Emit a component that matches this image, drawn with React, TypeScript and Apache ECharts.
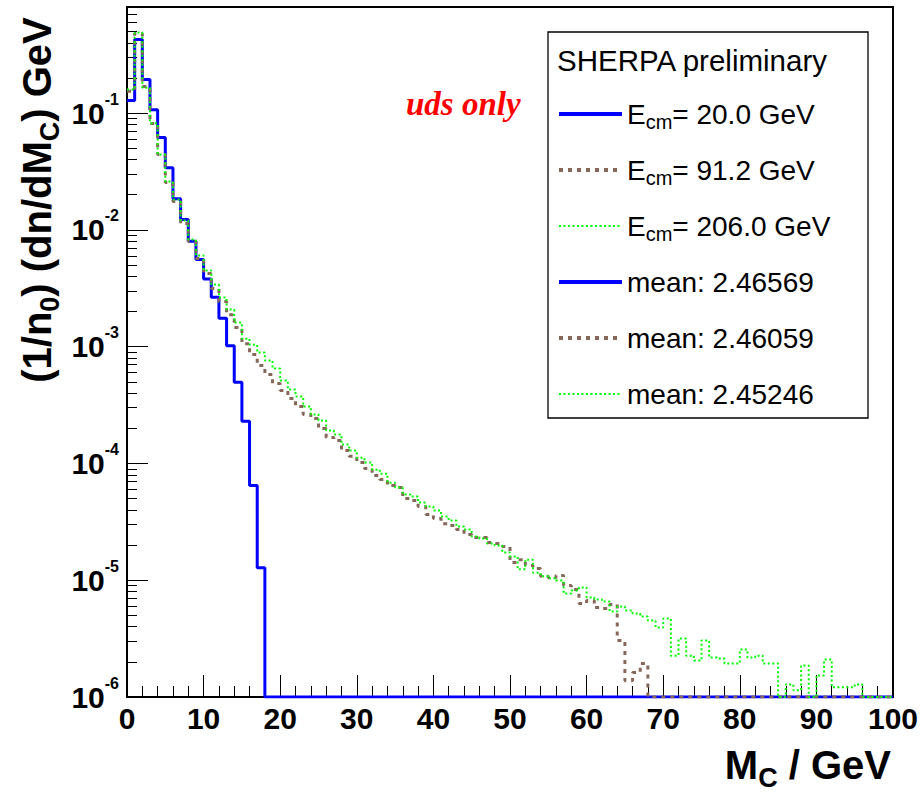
import React, { useEffect, useRef } from 'react';
import * as echarts from 'echarts';

// ---------- data (1 GeV bins) ----------
const binLowEdges: number[] = Array.from({ length: 100 }, (_, i) => i);
const X_MAX = 100;
const Y_MIN = 1e-6; // axis floor: empty bins are drawn on it, as ROOT does
const Y_MAX = 0.81;

const ecm20: number[] = [
  0.128, 0.426, 0.194, 0.107, 0.0617, 0.0341, 0.0185, 0.01225, 0.00798, 0.00557,
  0.0038, 0.00265, 0.00175, 0.00102, 0.000495, 0.00023, 6.47e-5, 1.28e-5, 0, 0,
  0, 0, 0, 0, 0, 0, 0, 0, 0, 0,
  0, 0, 0, 0, 0, 0, 0, 0, 0, 0,
  0, 0, 0, 0, 0, 0, 0, 0, 0, 0,
  0, 0, 0, 0, 0, 0, 0, 0, 0, 0,
  0, 0, 0, 0, 0, 0, 0, 0, 0, 0,
  0, 0, 0, 0, 0, 0, 0, 0, 0, 0,
  0, 0, 0, 0, 0, 0, 0, 0, 0, 0,
  0, 0, 0, 0, 0, 0, 0, 0, 0, 0,
];

const ecm91: number[] = [
  0.154, 0.48, 0.169, 0.0813, 0.0441, 0.0254, 0.01746, 0.01132, 0.00794, 0.00568,
  0.00424, 0.00314, 0.00243, 0.00188, 0.00146, 0.00106, 0.000855, 0.000689, 0.000577, 0.000483,
  0.000421, 0.00036, 0.000307, 0.000262, 0.000242, 0.000199, 0.000167, 0.000157, 0.000129, 0.000115,
  0.000102, 9.04e-5, 7.87e-5, 7.28e-5, 6.47e-5, 6.22e-5, 5.0e-5, 4.81e-5, 4.27e-5, 3.65e-5,
  3.37e-5, 3.05e-5, 2.94e-5, 2.72e-5, 2.46e-5, 2.32e-5, 2.32e-5, 2.1e-5, 2.06e-5, 1.94e-5,
  1.42e-5, 1.5e-5, 1.34e-5, 1.26e-5, 1.08e-5, 1.05e-5, 1.1e-5, 9.01e-6, 8.32e-6, 6.32e-6,
  6.7e-6, 5.83e-6, 5.73e-6, 6.19e-6, 3.05e-6, 1.38e-6, 1.62e-6, 1.94e-6, 0, 0,
  0, 0, 0, 0, 0, 0, 0, 0, 0, 0,
  0, 0, 0, 0, 0, 0, 0, 0, 0, 0,
  0, 0, 0, 0, 0, 0, 0, 0, 0, 0,
];

const ecm206: number[] = [
  0.159, 0.489, 0.165, 0.082, 0.0441, 0.0259, 0.01817, 0.01202, 0.00826, 0.00603,
  0.00449, 0.0034, 0.00263, 0.00208, 0.00161, 0.00117, 0.00104, 0.000891, 0.000761, 0.00065,
  0.000513, 0.00043, 0.000374, 0.000307, 0.000262, 0.000233, 0.000191, 0.000177, 0.000145, 0.000129,
  0.000112, 0.000102, 8.85e-5, 8.18e-5, 6.85e-5, 6.22e-5, 5.42e-5, 5.21e-5, 4.62e-5, 4.27e-5,
  3.95e-5, 3.51e-5, 3.24e-5, 2.88e-5, 2.72e-5, 2.37e-5, 2.28e-5, 2.06e-5, 1.98e-5, 1.73e-5,
  1.6e-5, 1.24e-5, 1.5e-5, 1.16e-5, 1.08e-5, 1.04e-5, 9.93e-6, 7.69e-6, 8.17e-6, 8.67e-6,
  7.11e-6, 6.84e-6, 6.58e-6, 5.4e-6, 5.96e-6, 5.51e-6, 5.19e-6, 4.89e-6, 4.52e-6, 3.94e-6,
  4.7e-6, 2.26e-6, 3.17e-6, 2.26e-6, 2.05e-6, 3.05e-6, 2.18e-6, 2.14e-6, 1.94e-6, 1.94e-6,
  2.55e-6, 2.18e-6, 2.26e-6, 1.94e-6, 1.94e-6, 0, 1.28e-6, 1.14e-6, 1.86e-6, 0,
  1.53e-6, 2.09e-6, 1.21e-6, 1.21e-6, 1.21e-6, 1.28e-6, 0, 0, 0, 0,
];

const seriesNames = ['Ecm= 20.0 GeV', 'Ecm= 91.2 GeV', 'Ecm= 206.0 GeV'];
const meanNames = ['mean: 2.46569', 'mean: 2.46059', 'mean: 2.45246'];
const xTickInterval = 10;
const yMajorTicks = [1e-6, 1e-5, 1e-4, 1e-3, 1e-2, 1e-1];
const yMinorMantissas = [2, 3, 4, 5, 6, 7, 8, 9];

// ---------- styles ----------
const SANS = "'Liberation Sans', Arial, Helvetica, sans-serif";
const SERIF = "'Liberation Serif', 'Times New Roman', serif";
const styles = [
  { color: '#0000ff', width: 3, type: 'solid' as any, legendWidth: 4 },
  { color: '#87675a', width: 3, type: [4, 5] as any, legendWidth: 4 },
  { color: '#00ff00', width: 2, type: [2, 2.5] as any, legendWidth: 2 },
];

function toSteps(vals: number[]): [number, number][] {
  const pts: [number, number][] = vals.map((v, i) => [binLowEdges[i], v > 0 ? v : Y_MIN]);
  const last = vals[vals.length - 1];
  pts.push([X_MAX, last > 0 ? last : Y_MIN]);
  return pts;
}

const yMinorTicks: number[] = [];
yMajorTicks.forEach((d) => yMinorMantissas.forEach((m) => {
  const v = m * d;
  if (v < 0.75) yMinorTicks.push(v);
}));

const titleRich = {
  b: { fontFamily: SANS, fontSize: 40, fontWeight: 'bold', fill: '#000', color: '#000', lineHeight: 42 },
  s: { fontFamily: SANS, fontSize: 27, fontWeight: 'bold', fill: '#000', color: '#000', lineHeight: 14, height: 16, verticalAlign: 'bottom' },
};

export default function App() {
  const ref = useRef<HTMLDivElement>(null);
  useEffect(() => {
    const chart = echarts.init(ref.current!, null, { renderer: 'svg' });
    const histos = [ecm20, ecm91, ecm206];
    const series: any[] = histos.map((vals, i) => ({
      name: seriesNames[i],
      type: 'line',
      step: 'end',
      symbol: 'none',
      showSymbol: false,
      data: toSteps(vals),
      lineStyle: { color: styles[i].color, width: styles[i].width, type: styles[i].type },
      itemStyle: { color: styles[i].color },
      z: 2 + i,
    }));
    meanNames.forEach((n, i) => {
      series.push({
        name: n,
        type: 'line',
        symbol: 'none',
        data: [],
        lineStyle: { color: styles[i].color, width: styles[i].width, type: styles[i].type },
        itemStyle: { color: styles[i].color },
      });
    });
    const legendOrder = [...seriesNames, ...meanNames];
    const option: any = {
      animation: false,
      backgroundColor: '#ffffff',
      grid: {
        left: 127, right: 31, top: 7, bottom: 97,
        show: true, borderColor: '#000', borderWidth: 2,
        outerBoundsMode: 'none',
      },
      xAxis: {
        type: 'value', min: 0, max: X_MAX, interval: xTickInterval,
        axisLine: { show: true, onZero: false, lineStyle: { color: '#000', width: 2 } },
        axisTick: { show: true, inside: true, length: 22, lineStyle: { color: '#000', width: 1 } },
        minorTick: { show: true, splitNumber: 5, length: 11, lineStyle: { color: '#000', width: 1 } },
        axisLabel: {
          show: true, showMinLabel: true, showMaxLabel: true, margin: 6,
          fontSize: 30, fontWeight: 'bold', fontFamily: SANS, color: '#000',
        },
        splitLine: { show: false },
      },
      yAxis: [
        {
          type: 'log', logBase: 10, min: Y_MIN, max: Y_MAX,
          axisLine: { show: true, lineStyle: { color: '#000', width: 2 } },
          axisTick: { show: true, inside: true, length: 21, customValues: yMajorTicks, lineStyle: { color: '#000', width: 1 } },
          axisLabel: {
            show: true, customValues: yMajorTicks, margin: 8,
            formatter: (v: number) => {
              const e = Math.round(Math.log10(v));
              return `{b|10}{e|${e}}`;
            },
            rich: {
              b: { fontSize: 30, fontWeight: 'bold', fontFamily: SANS, color: '#000', lineHeight: 44 },
              e: { fontSize: 16, fontWeight: 'bold', fontFamily: SANS, color: '#000', lineHeight: 16, height: 16, verticalAlign: 'top' },
            },
          },
          splitLine: { show: false },
          minorTick: { show: false },
        },
        {
          type: 'log', logBase: 10, min: Y_MIN, max: Y_MAX, position: 'left', offset: 0,
          axisLine: { show: false },
          axisTick: { show: true, inside: true, length: 10, customValues: yMinorTicks, lineStyle: { color: '#000', width: 1 } },
          axisLabel: { show: false },
          splitLine: { show: false },
        },
      ],
      legend: {
        orient: 'vertical', left: 552, top: 95, padding: 5,
        itemWidth: 63, itemHeight: 14, itemGap: 24,
        selectedMode: false,
        itemStyle: { opacity: 0 },
        data: legendOrder.map((n, i) => ({
          name: n,
          lineStyle: { color: styles[i % 3].color, width: styles[i % 3].legendWidth, type: styles[i % 3].type },
        })),
        formatter: (name: string) =>
          name.startsWith('Ecm') ? `{n|E}{s|cm}{n|${name.slice(3)}}` : `{n|${name}}{s| }`,
        textStyle: {
          fontFamily: SANS, fontSize: 28, color: '#000',
          rich: {
            n: { fontFamily: SANS, fontSize: 28, color: '#000', lineHeight: 30 },
            s: { fontFamily: SANS, fontSize: 20, color: '#000', lineHeight: 14, height: 14, verticalAlign: 'bottom' },
          },
        },
        z: 5,
      },
      graphic: [
        {
          type: 'rect', z: 3,
          shape: { x: 548, y: 32, width: 320, height: 386 },
          style: { fill: '#fff', stroke: '#000', lineWidth: 1.3 },
        },
        {
          type: 'text', z: 5, x: 557, y: 60,
          style: { text: 'SHERPA preliminary', fontFamily: SANS, fontSize: 29.5, fill: '#000', align: 'left', verticalAlign: 'middle' },
        },
        {
          type: 'text', z: 5, x: 406, y: 104,
          style: { text: 'uds only', fontFamily: SERIF, fontSize: 33, fontStyle: 'italic', fontWeight: 'bold', fill: '#ff0000', align: 'left', verticalAlign: 'middle' },
        },
        {
          type: 'text', z: 5, x: 37, y: 200, rotation: Math.PI / 2,
          style: {
            text: '{b|(1/n}{s|0}{b|) (dn/dM}{s|C}{b|) GeV}',
            align: 'center', verticalAlign: 'middle',
            rich: titleRich,
          },
        },
        {
          type: 'text', z: 5, x: 891, y: 765,
          style: {
            text: '{b|M}{s|C}{b| / GeV}',
            align: 'right', verticalAlign: 'middle',
            rich: titleRich,
          },
        },
      ],
      series,
    };
    chart.setOption(option);
    return () => chart.dispose();
  }, []);
  return (
    <div
      ref={ref}
      style={{ position: 'fixed', left: 0, top: 0, width: 924, height: 794, background: '#fff' }}
    />
  );
}
